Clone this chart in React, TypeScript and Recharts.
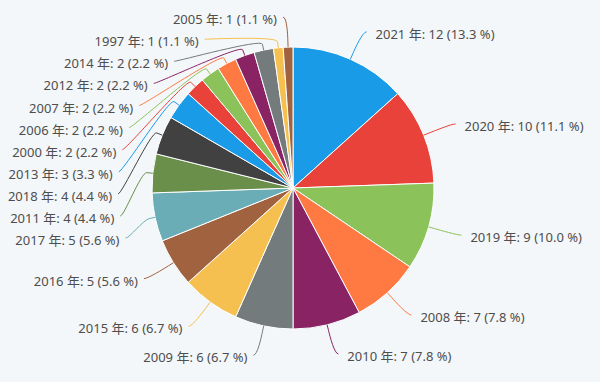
import { Pie, PieChart, Cell } from "recharts";

const years = [
  "2021", "2020", "2019", "2008", "2010", "2009", "2015", "2016", "2017", "2011",
  "2018", "2013", "2000", "2006", "2007", "2012", "2014", "1997", "2005",
];
const counts = [12, 10, 9, 7, 7, 6, 6, 5, 5, 4, 4, 3, 2, 2, 2, 2, 2, 1, 1];
const palette = [
  "#1a9be8", "#e8423b", "#8cc25a", "#ff7a42", "#8a2364", "#747b7c",
  "#f5c04f", "#a1623f", "#6aadb6", "#698f4b", "#414141",
];

const W = 600;
const H = 382;
const CX = 293;
const CY = 188;
const R = 141;
const LABEL_DIST = 30;
const ROW = 22.1;

const total = counts.reduce((a, b) => a + b, 0);
const data = years.map((y, i) => ({ name: y, value: counts[i] }));

type LabelPos = { y: number; left: boolean };

// highcharts-ish label placement: natural spot at R + distance, then push down to avoid overlap
function layoutLabels(): LabelPos[] {
  const out: LabelPos[] = [];
  const nat: { i: number; y: number; left: boolean }[] = [];
  let cum = 0;
  counts.forEach((v, i) => {
    const th = ((cum + v / 2) / total) * 2 * Math.PI;
    cum += v;
    const left = Math.sin(th) < 0;
    nat.push({ i, y: CY - (R + LABEL_DIST) * Math.cos(th), left });
  });
  [true, false].forEach((side) => {
    const list = nat.filter((n) => n.left === side).sort((a, b) => a.y - b.y);
    let prev = -Infinity;
    list.forEach((n) => {
      const y = Math.max(n.y, prev + ROW);
      out[n.i] = { y, left: side };
      prev = y;
    });
  });
  return out;
}

const labelPos = layoutLabels();

const renderLabel = (props: any) => {
  const { cx, cy, midAngle, outerRadius, index } = props;
  const rad = Math.PI / 180;
  const ca = Math.cos(-midAngle * rad);
  const sa = Math.sin(-midAngle * rad);
  const pt = (r: number) => [cx + r * ca, cy + r * sa];
  const [ex, ey] = pt(outerRadius);
  const [bx, by] = pt(outerRadius + 6);
  const [kx, ky] = pt(outerRadius + 12);
  const { y, left } = labelPos[index];
  const RL = outerRadius + LABEL_DIST;
  const dy = y - cy;
  const dir = left ? -1 : 1;
  const ax = cx + dir * Math.sqrt(Math.max(0, RL * RL - dy * dy));
  const endX = ax + dir * 4;
  const color = palette[index % palette.length];
  const pct = ((counts[index] / total) * 100).toFixed(1);
  return (
    <g key={`lbl-${index}`}>
      <path
        d={`M${endX},${y} C${ax},${y} ${kx},${ky} ${bx},${by} L${ex},${ey}`}
        stroke={color}
        strokeWidth={1}
        fill="none"
      />
      <text
        x={left ? endX - 6 : endX + 9}
        y={y + 2}
        textAnchor={left ? "end" : "start"}
        dominantBaseline="central"
        fill="#4e4e4e"
        fontSize={13}
        fontFamily="'Noto Sans', 'Noto Sans CJK JP', sans-serif"
      >
        {`${years[index]} 年: ${counts[index]} (${pct} %)`}
      </text>
    </g>
  );
};

export default function App() {
  return (
    <div style={{ width: W, height: H, background: "#f4f7f9" }}>
      <style>{"body{margin:0}"}</style>
      <PieChart width={W} height={H} margin={{ top: 0, right: 0, bottom: 0, left: 0 }}>
        <Pie
          data={data}
          dataKey="value"
          nameKey="name"
          cx={CX}
          cy={CY}
          outerRadius={R}
          startAngle={90}
          endAngle={-270}
          stroke="#ffffff"
          strokeWidth={1}
          label={renderLabel}
          labelLine={false}
          isAnimationActive={false}
        >
          {data.map((d, i) => (
            <Cell key={d.name} fill={palette[i % palette.length]} />
          ))}
        </Pie>
      </PieChart>
    </div>
  );
}
